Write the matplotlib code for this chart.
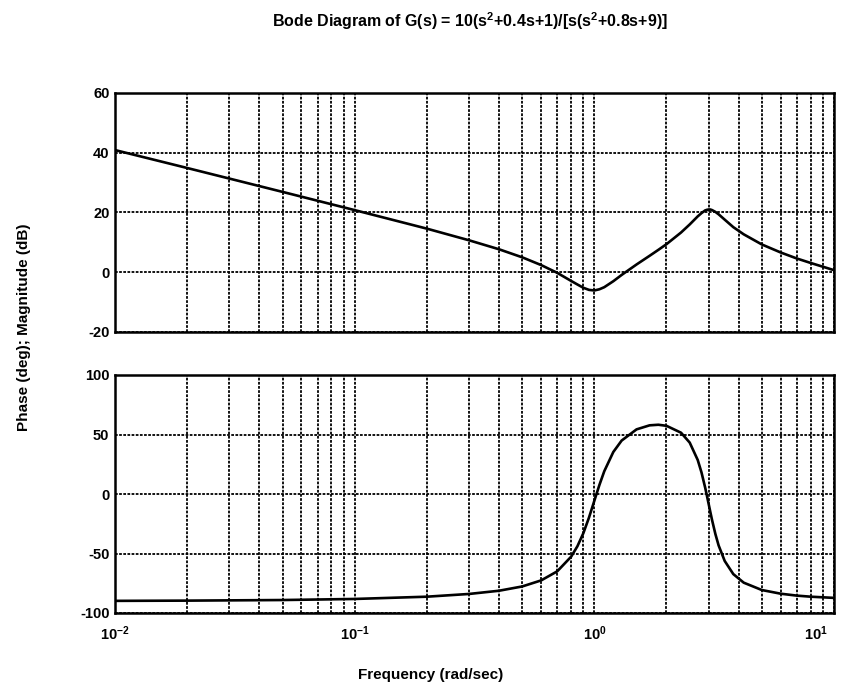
import matplotlib
matplotlib.use("Agg")
import matplotlib.pyplot as plt
import matplotlib.transforms as mtransforms
from matplotlib.ticker import LogLocator, NullFormatter, FixedLocator

plt.rcParams['font.family'] = ['Liberation Sans', 'DejaVu Sans']
plt.rcParams['font.weight'] = 'bold'
plt.rcParams['mathtext.fontset'] = 'custom'
plt.rcParams['mathtext.rm'] = 'Liberation Sans:bold'
plt.rcParams['mathtext.bf'] = 'Liberation Sans:bold'
plt.rcParams['mathtext.it'] = 'Liberation Sans:bold'
plt.rcParams['mathtext.default'] = 'bf'
plt.rcParams['axes.unicode_minus'] = False

# ---- data ----
freq = [0.01, 0.02, 0.05, 0.1, 0.2, 0.3, 0.4, 0.5, 0.6, 0.7, 0.8, 0.85, 0.9, 0.95,
        1.0, 1.05, 1.1, 1.2, 1.3, 1.5, 1.7, 1.85, 2.0, 2.3, 2.5, 2.7, 2.8, 2.9, 2.95,
        3.0, 3.05, 3.1, 3.2, 3.3, 3.5, 3.8, 4.2, 5.0, 6.0, 7.0, 8.0, 10.0]
mag_db = [40.9, 34.9, 26.9, 20.8, 14.6, 10.7, 7.7, 5.0, 2.4, -0.2, -2.9, -4.1, -5.2, -5.9,
          -6.1, -5.7, -5.0, -3.0, -0.9, 2.6, 5.5, 7.5, 9.4, 13.3, 16.0, 18.7, 19.8, 20.7, 20.9,
          21.0, 21.0, 20.8, 20.2, 19.4, 17.6, 15.1, 12.7, 9.3, 6.6, 4.6, 3.1, 0.7]
phase_deg = [-89.8, -89.6, -89.1, -88.2, -86.3, -84.0, -81.3, -77.7, -72.6, -65.0, -52.7, -43.9, -32.9, -19.8,
             -5.7, 7.6, 19.1, 35.3, 44.9, 54.3, 57.7, 58.2, 57.3, 51.5, 43.2, 28.6, 18.1, 5.4, -1.5,
             -8.5, -15.4, -22.0, -33.7, -43.2, -56.3, -67.3, -74.5, -80.7, -83.8, -85.4, -86.3, -87.3]

mag_ticks = [-20, 0, 20, 40, 60]
phase_ticks = [-100, -50, 0, 50, 100]
x_ticks = [0.01, 0.1, 1, 10]
x_ticklabels = [r'$10^{-2}$', r'$10^{-1}$', r'$10^{0}$', r'$10^{1}$']

title = r'Bode Diagram of G(s) = 10(s$^{2}$+0.4s+1)/[s(s$^{2}$+0.8s+9)]'
ylabel = 'Phase (deg); Magnitude (dB)'
xlabel = 'Frequency (rad/sec)'

W, H = 841, 698
fig = plt.figure(figsize=(W / 100, H / 100), dpi=100)

L, R = 115 / W, 834 / W
ax1 = fig.add_axes([L, 1 - 332 / H, R - L, (332 - 93) / H])
ax2 = fig.add_axes([L, 1 - 613 / H, R - L, (613 - 375) / H])

grid_kw = dict(color='black', linestyle=(0, (1.5, 0.8)), linewidth=1.3)

for ax, yv, ticks in ((ax1, mag_db, mag_ticks), (ax2, phase_deg, phase_ticks)):
    ax.set_xscale('log')
    ax.set_xlim(0.01, 10)
    ax.set_ylim(ticks[0], ticks[-1])
    ax.set_yticks(ticks)
    ax.set_yticklabels([str(t) for t in ticks], fontsize=10.5, fontweight='bold')
    ax.xaxis.set_major_locator(FixedLocator(x_ticks))
    ax.xaxis.set_minor_locator(LogLocator(base=10, subs=[2, 3, 4, 5, 6, 7, 8, 9]))
    ax.xaxis.set_minor_formatter(NullFormatter())
    ax.grid(True, which='both', axis='x', **grid_kw)
    ax.grid(True, which='major', axis='y', **grid_kw)
    ax.tick_params(which='both', length=0, pad=4)
    for s in ax.spines.values():
        s.set_linewidth(1.8)
        s.set_color('black')
    ax.plot(freq, yv, color='black', linewidth=1.9, zorder=5)
    ax.set_facecolor('white')

ax1.set_xticklabels([])
ax2.set_xticklabels(x_ticklabels, fontsize=10.5)
ax2.tick_params(axis='x', pad=8)
last = ax2.get_xticklabels()[-1]
last.set_horizontalalignment('right')
last.set_transform(last.get_transform() + mtransforms.ScaledTranslation(-6 / 100, 0, fig.dpi_scale_trans))

fig.text(470 / W, 1 - 21 / H, title, ha='center', va='center', fontsize=11.5, fontweight='bold')
fig.text(24 / W, 1 - 327 / H, ylabel, ha='center', va='center', rotation=90, fontsize=11, fontweight='bold')
fig.text(431 / W, 1 - 675 / H, xlabel, ha='center', va='center', fontsize=11, fontweight='bold')

fig.savefig('out.png', dpi=100, facecolor='white')
